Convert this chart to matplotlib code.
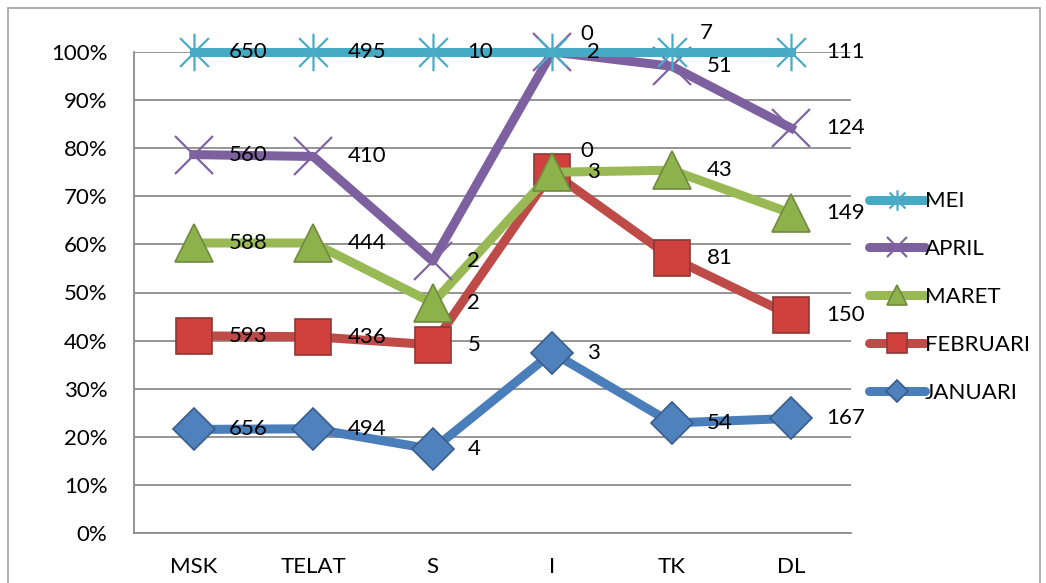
import numpy as np
import matplotlib
matplotlib.use('Agg')
import matplotlib.pyplot as plt
from matplotlib.path import Path
from matplotlib.lines import Line2D
import matplotlib.patches as mpatches
from matplotlib.ticker import PercentFormatter

# datos
categorias = ['MSK', 'TELAT', 'S', 'I', 'TK', 'DL']
januari  = [656, 494, 4, 3, 54, 167]
februari = [593, 436, 5, 3, 81, 150]
maret    = [588, 444, 2, 0, 43, 149]
april    = [560, 410, 2, 2, 51, 124]
mei      = [650, 495, 10, 0, 7, 111]

series = ['JANUARI', 'FEBRUARI', 'MARET', 'APRIL', 'MEI']
valores = [januari, februari, maret, april, mei]

# marcador tipo asterisco de Excel (X + linea vertical)
star = Path([(-1, -1), (1, 1), (-1, 1), (1, -1), (0, -1.3), (0, 1.3)],
            [Path.MOVETO, Path.LINETO, Path.MOVETO, Path.LINETO, Path.MOVETO, Path.LINETO])

estilos = {
    'JANUARI':  dict(color='#4A7EBB', marker='D', ms=21, mfc='#4F81BD', mec='#385D8A', mew=1.2),
    'FEBRUARI': dict(color='#BE4B48', marker='s', ms=26, mfc='#D0413E', mec='#8C3836', mew=1.2),
    'MARET':    dict(color='#98B954', marker='^', ms=27, mfc='#8DB24C', mec='#71893F', mew=1.2),
    'APRIL':    dict(color='#7D60A0', marker='x', ms=27, mfc='none', mec='#8064A2', mew=1.6),
    'MEI':      dict(color='#46AAC5', marker=star, ms=27, mfc='none', mec='#4BACC6', mew=1.6),
}

# desplazamientos de etiquetas superpuestas (en puntos)
ajustes = {('MEI', 3): (20, 13), ('MEI', 4): (20, 14), ('MARET', 3): (20, 15)}

fig = plt.figure(figsize=(10.46, 5.83), dpi=100)
ax = fig.add_axes([134 / 1046, 50 / 583, (851 - 134) / 1046, (533 - 52) / 583])

plt.rcParams['font.family'] = ['Lato', 'DejaVu Sans']

datos = np.array(valores, dtype=float)
acumulado = np.cumsum(datos, axis=0) / datos.sum(axis=0)
x = np.arange(len(categorias))

for i, nombre in enumerate(series):
    e = estilos[nombre]
    ax.plot(x, acumulado[i], color=e['color'], lw=6.5, zorder=2 + i, clip_on=False,
            marker=e['marker'], ms=e['ms'], mfc=e['mfc'], mec=e['mec'], mew=e['mew'])
    for j, v in enumerate(valores[i]):
        dx, dy = ajustes.get((nombre, j), (25, 0))
        ax.annotate(str(v), (x[j], acumulado[i][j]), xytext=(dx, dy),
                    textcoords='offset points', ha='left', va='center',
                    fontsize=16, color='black', zorder=20, family='Lato')

ax.set_xlim(-0.5, len(categorias) - 0.5)
ax.set_ylim(0, 1)
ax.set_yticks(np.linspace(0, 1, 11))
ax.yaxis.set_major_formatter(PercentFormatter(1.0, decimals=0))
ax.set_xticks(x)
ax.set_xticklabels(categorias)
ax.tick_params(axis='both', length=0, labelsize=16)
ax.tick_params(axis='y', pad=19)
ax.tick_params(axis='x', pad=17)
for lab in ax.get_xticklabels() + ax.get_yticklabels():
    lab.set_family('Lato')
ax.grid(axis='y', color='#8C8C8C', lw=1.3)
ax.set_axisbelow(True)
for s in ['top', 'right']:
    ax.spines[s].set_visible(False)
for s in ['left', 'bottom']:
    ax.spines[s].set_color('#8C8C8C')
    ax.spines[s].set_linewidth(1.3)

# leyenda (orden inverso)
handles = []
for nombre in series[::-1]:
    e = estilos[nombre]
    handles.append(Line2D([], [], color=e['color'], lw=6.5, solid_capstyle='round',
                          marker=e['marker'], ms=e['ms'] * 0.55, mfc=e['mfc'],
                          mec=e['mec'], mew=e['mew']))
fig.legend(handles, series[::-1], loc='center left', bbox_to_anchor=(849 / 1046, 1 - 297 / 583),
           frameon=False, handlelength=2.5, handletextpad=0.0,
           labelspacing=1.25, prop={'family': 'Lato', 'size': 16})

# borde del area del grafico
fig.patches.append(mpatches.Rectangle((8 / 1046, -0.1), (1040 - 8) / 1046, 1.1 - 8 / 583,
                                      transform=fig.transFigure, fill=False,
                                      edgecolor='#A0A0A0', lw=1.2))

fig.savefig('out.png', dpi=100, facecolor='white')
plt.close(fig)
